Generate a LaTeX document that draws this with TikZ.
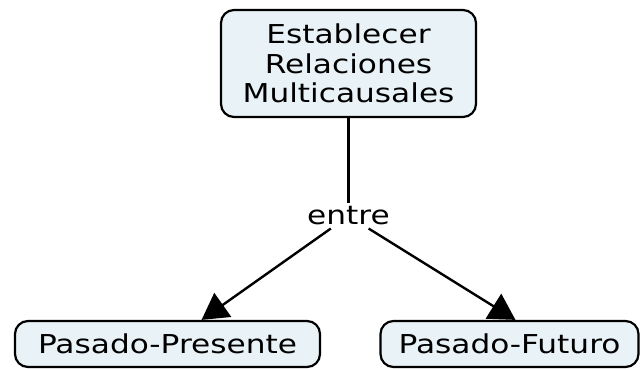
\documentclass[tikz,border=0pt]{standalone}
\usepackage{fontspec}
\setmainfont{DejaVu Sans}[FakeStretch=1.2]
\usetikzlibrary{arrows.meta}
\definecolor{conceptfill}{RGB}{233,242,246}

\begin{document}
\begin{tikzpicture}[x=1pt,y=-1pt]
\tikzstyle{concept}=[rectangle,rounded corners=13pt,draw,line width=2.2pt,fill=conceptfill,inner sep=0pt,align=center,font=\fontsize{26}{29.5}\selectfont]
\tikzstyle{linking}=[inner sep=3pt,font=\fontsize{26}{29.5}\selectfont]
\tikzstyle{link}=[line width=2.4pt]
\tikzstyle{arrowlink}=[link,-{Triangle[length=26pt,width=29pt]}]
\useasboundingbox (0,0) rectangle (643,369);
\node[concept,minimum width=255pt,minimum height=107pt] (est) at (348.5,63.5) {Establecer\\Relaciones\\Multicausales};
\node[linking] (entre) at (348.5,216) {entre};
\node[concept,minimum width=305pt,minimum height=46pt] (pp) at (167.5,344) {Pasado-Presente};
\node[concept,minimum width=258pt,minimum height=46pt] (pf) at (509.5,344) {Pasado-Futuro};
\draw[link] (est) -- (entre);
\draw[arrowlink] (entre) -- (pp);
\draw[arrowlink] (entre) -- ([xshift=6pt]pf.north);
\end{tikzpicture}
\end{document}
